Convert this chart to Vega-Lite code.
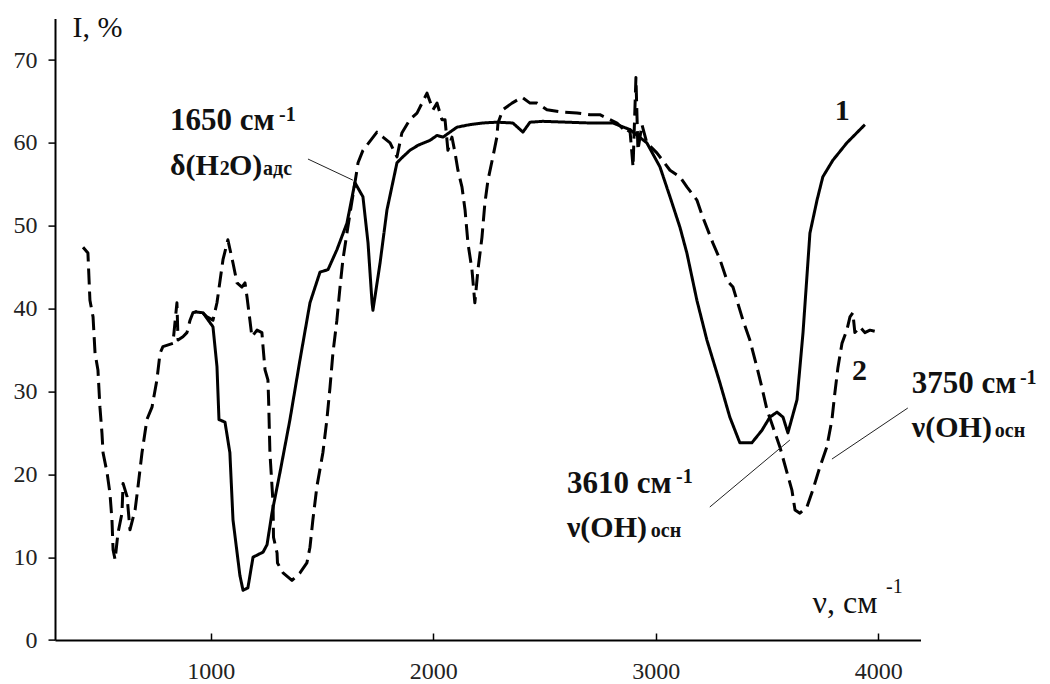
{
  "$schema": "https://vega.github.io/schema/vega-lite/v6.json",
  "width": 865.5,
  "height": 621.4,
  "autosize": {"type": "none"},
  "padding": {"left": 55, "top": 18.6, "right": 129.5, "bottom": 44},
  "background": "white",
  "config": {"view": {"stroke": null}, "font": "Liberation Serif"},
  "datasets": {
    "spectra": [
      {"curve": "1", "v": 929, "I": 39.6}, {"curve": "1", "v": 965, "I": 39.5}, {"curve": "1", "v": 1010, "I": 37.8},
      {"curve": "1", "v": 1028, "I": 33.0}, {"curve": "1", "v": 1037, "I": 26.6}, {"curve": "1", "v": 1064, "I": 26.3},
      {"curve": "1", "v": 1086, "I": 22.6}, {"curve": "1", "v": 1100, "I": 14.5}, {"curve": "1", "v": 1131, "I": 7.8},
      {"curve": "1", "v": 1145, "I": 6.0}, {"curve": "1", "v": 1167, "I": 6.3}, {"curve": "1", "v": 1190, "I": 10.0},
      {"curve": "1", "v": 1235, "I": 10.6}, {"curve": "1", "v": 1253, "I": 11.5}, {"curve": "1", "v": 1275, "I": 15.3},
      {"curve": "1", "v": 1311, "I": 20.2}, {"curve": "1", "v": 1356, "I": 26.6}, {"curve": "1", "v": 1401, "I": 33.8},
      {"curve": "1", "v": 1446, "I": 40.7}, {"curve": "1", "v": 1491, "I": 44.4}, {"curve": "1", "v": 1527, "I": 44.7},
      {"curve": "1", "v": 1567, "I": 47.1}, {"curve": "1", "v": 1612, "I": 50.3}, {"curve": "1", "v": 1648, "I": 55.2},
      {"curve": "1", "v": 1684, "I": 53.5}, {"curve": "1", "v": 1707, "I": 47.9}, {"curve": "1", "v": 1725, "I": 40.7},
      {"curve": "1", "v": 1729, "I": 39.8}, {"curve": "1", "v": 1761, "I": 45.5}, {"curve": "1", "v": 1792, "I": 51.9},
      {"curve": "1", "v": 1837, "I": 57.6}, {"curve": "1", "v": 1859, "I": 58.2}, {"curve": "1", "v": 1895, "I": 59.1},
      {"curve": "1", "v": 1931, "I": 59.7}, {"curve": "1", "v": 1985, "I": 60.3}, {"curve": "1", "v": 2017, "I": 60.9},
      {"curve": "1", "v": 2044, "I": 60.7}, {"curve": "1", "v": 2107, "I": 61.9}, {"curve": "1", "v": 2165, "I": 62.2},
      {"curve": "1", "v": 2223, "I": 62.4}, {"curve": "1", "v": 2286, "I": 62.5}, {"curve": "1", "v": 2358, "I": 62.4},
      {"curve": "1", "v": 2403, "I": 61.3}, {"curve": "1", "v": 2435, "I": 62.5}, {"curve": "1", "v": 2493, "I": 62.6},
      {"curve": "1", "v": 2704, "I": 62.4}, {"curve": "1", "v": 2808, "I": 62.4}, {"curve": "1", "v": 2884, "I": 61.6},
      {"curve": "1", "v": 2960, "I": 60.0}, {"curve": "1", "v": 3019, "I": 57.1}, {"curve": "1", "v": 3064, "I": 53.5},
      {"curve": "1", "v": 3109, "I": 49.8}, {"curve": "1", "v": 3140, "I": 46.7}, {"curve": "1", "v": 3185, "I": 41.0},
      {"curve": "1", "v": 3230, "I": 36.2}, {"curve": "1", "v": 3289, "I": 31.0}, {"curve": "1", "v": 3333, "I": 26.9},
      {"curve": "1", "v": 3378, "I": 23.8}, {"curve": "1", "v": 3432, "I": 23.8}, {"curve": "1", "v": 3477, "I": 25.3},
      {"curve": "1", "v": 3513, "I": 26.9}, {"curve": "1", "v": 3545, "I": 27.5}, {"curve": "1", "v": 3572, "I": 26.9},
      {"curve": "1", "v": 3594, "I": 25.0}, {"curve": "1", "v": 3635, "I": 29.0}, {"curve": "1", "v": 3662, "I": 37.1},
      {"curve": "1", "v": 3693, "I": 49.1}, {"curve": "1", "v": 3725, "I": 53.1}, {"curve": "1", "v": 3751, "I": 55.9},
      {"curve": "1", "v": 3796, "I": 57.9}, {"curve": "1", "v": 3859, "I": 60.0}, {"curve": "1", "v": 3940, "I": 62.2},

      {"curve": "2", "v": 426, "I": 47.4}, {"curve": "2", "v": 448, "I": 46.7}, {"curve": "2", "v": 457, "I": 41.0},
      {"curve": "2", "v": 471, "I": 39.0}, {"curve": "2", "v": 480, "I": 34.6}, {"curve": "2", "v": 493, "I": 32.6},
      {"curve": "2", "v": 502, "I": 28.1}, {"curve": "2", "v": 511, "I": 25.0}, {"curve": "2", "v": 516, "I": 22.6},
      {"curve": "2", "v": 534, "I": 20.2}, {"curve": "2", "v": 547, "I": 17.7}, {"curve": "2", "v": 556, "I": 14.5},
      {"curve": "2", "v": 561, "I": 10.9}, {"curve": "2", "v": 570, "I": 9.7}, {"curve": "2", "v": 583, "I": 12.9},
      {"curve": "2", "v": 601, "I": 15.3}, {"curve": "2", "v": 606, "I": 18.9}, {"curve": "2", "v": 624, "I": 17.3},
      {"curve": "2", "v": 637, "I": 13.3}, {"curve": "2", "v": 660, "I": 15.7}, {"curve": "2", "v": 673, "I": 18.5},
      {"curve": "2", "v": 691, "I": 22.6}, {"curve": "2", "v": 713, "I": 26.6}, {"curve": "2", "v": 736, "I": 28.1},
      {"curve": "2", "v": 758, "I": 31.4}, {"curve": "2", "v": 772, "I": 34.6}, {"curve": "2", "v": 785, "I": 35.4},
      {"curve": "2", "v": 830, "I": 35.8}, {"curve": "2", "v": 848, "I": 40.7}, {"curve": "2", "v": 853, "I": 36.2},
      {"curve": "2", "v": 875, "I": 36.6}, {"curve": "2", "v": 893, "I": 37.1}, {"curve": "2", "v": 907, "I": 38.6},
      {"curve": "2", "v": 920, "I": 39.5}, {"curve": "2", "v": 952, "I": 39.8}, {"curve": "2", "v": 983, "I": 39.0},
      {"curve": "2", "v": 1010, "I": 38.6}, {"curve": "2", "v": 1028, "I": 40.7}, {"curve": "2", "v": 1042, "I": 43.4},
      {"curve": "2", "v": 1055, "I": 45.9}, {"curve": "2", "v": 1077, "I": 48.3}, {"curve": "2", "v": 1100, "I": 45.5},
      {"curve": "2", "v": 1118, "I": 43.1}, {"curve": "2", "v": 1140, "I": 42.6}, {"curve": "2", "v": 1154, "I": 43.1},
      {"curve": "2", "v": 1163, "I": 41.4}, {"curve": "2", "v": 1176, "I": 38.6}, {"curve": "2", "v": 1185, "I": 36.6},
      {"curve": "2", "v": 1208, "I": 37.4}, {"curve": "2", "v": 1230, "I": 37.1}, {"curve": "2", "v": 1235, "I": 35.4},
      {"curve": "2", "v": 1244, "I": 32.6}, {"curve": "2", "v": 1257, "I": 31.4}, {"curve": "2", "v": 1260, "I": 29.0},
      {"curve": "2", "v": 1266, "I": 22.6}, {"curve": "2", "v": 1280, "I": 16.5}, {"curve": "2", "v": 1282, "I": 12.4},
      {"curve": "2", "v": 1298, "I": 10.5}, {"curve": "2", "v": 1300, "I": 9.3}, {"curve": "2", "v": 1325, "I": 8.1},
      {"curve": "2", "v": 1365, "I": 7.2}, {"curve": "2", "v": 1401, "I": 8.1}, {"curve": "2", "v": 1432, "I": 9.3},
      {"curve": "2", "v": 1446, "I": 11.2}, {"curve": "2", "v": 1459, "I": 14.5}, {"curve": "2", "v": 1477, "I": 18.5},
      {"curve": "2", "v": 1504, "I": 22.6}, {"curve": "2", "v": 1522, "I": 26.6}, {"curve": "2", "v": 1536, "I": 30.5},
      {"curve": "2", "v": 1549, "I": 34.6}, {"curve": "2", "v": 1567, "I": 38.6}, {"curve": "2", "v": 1581, "I": 42.6},
      {"curve": "2", "v": 1594, "I": 45.9}, {"curve": "2", "v": 1612, "I": 49.1}, {"curve": "2", "v": 1626, "I": 51.5},
      {"curve": "2", "v": 1657, "I": 56.7}, {"curve": "2", "v": 1662, "I": 57.6}, {"curve": "2", "v": 1684, "I": 59.1},
      {"curve": "2", "v": 1747, "I": 61.3}, {"curve": "2", "v": 1774, "I": 60.7}, {"curve": "2", "v": 1806, "I": 60.0},
      {"curve": "2", "v": 1837, "I": 58.3}, {"curve": "2", "v": 1859, "I": 61.2}, {"curve": "2", "v": 1895, "I": 62.8},
      {"curve": "2", "v": 1927, "I": 63.6}, {"curve": "2", "v": 1972, "I": 66.0}, {"curve": "2", "v": 1999, "I": 64.0},
      {"curve": "2", "v": 2017, "I": 64.8}, {"curve": "2", "v": 2039, "I": 62.8}, {"curve": "2", "v": 2053, "I": 62.8},
      {"curve": "2", "v": 2066, "I": 59.1}, {"curve": "2", "v": 2084, "I": 60.7}, {"curve": "2", "v": 2098, "I": 58.8},
      {"curve": "2", "v": 2111, "I": 56.7}, {"curve": "2", "v": 2129, "I": 54.7}, {"curve": "2", "v": 2143, "I": 51.9},
      {"curve": "2", "v": 2156, "I": 47.9}, {"curve": "2", "v": 2174, "I": 44.7}, {"curve": "2", "v": 2187, "I": 40.7},
      {"curve": "2", "v": 2201, "I": 44.7}, {"curve": "2", "v": 2219, "I": 48.6}, {"curve": "2", "v": 2232, "I": 52.7},
      {"curve": "2", "v": 2246, "I": 55.5}, {"curve": "2", "v": 2268, "I": 58.3}, {"curve": "2", "v": 2286, "I": 60.7},
      {"curve": "2", "v": 2291, "I": 62.4}, {"curve": "2", "v": 2313, "I": 64.0}, {"curve": "2", "v": 2354, "I": 64.8},
      {"curve": "2", "v": 2399, "I": 65.5}, {"curve": "2", "v": 2435, "I": 64.8}, {"curve": "2", "v": 2466, "I": 64.8},
      {"curve": "2", "v": 2511, "I": 64.0}, {"curve": "2", "v": 2583, "I": 63.7}, {"curve": "2", "v": 2646, "I": 63.6},
      {"curve": "2", "v": 2704, "I": 63.4}, {"curve": "2", "v": 2749, "I": 63.4}, {"curve": "2", "v": 2826, "I": 62.4},
      {"curve": "2", "v": 2871, "I": 61.2}, {"curve": "2", "v": 2884, "I": 61.6}, {"curve": "2", "v": 2898, "I": 57.1},
      {"curve": "2", "v": 2911, "I": 67.9}, {"curve": "2", "v": 2920, "I": 59.1}, {"curve": "2", "v": 2938, "I": 62.2},
      {"curve": "2", "v": 2960, "I": 60.0}, {"curve": "2", "v": 3005, "I": 58.8}, {"curve": "2", "v": 3064, "I": 56.7},
      {"curve": "2", "v": 3109, "I": 55.9}, {"curve": "2", "v": 3140, "I": 54.7}, {"curve": "2", "v": 3185, "I": 53.1},
      {"curve": "2", "v": 3212, "I": 51.0}, {"curve": "2", "v": 3257, "I": 47.9}, {"curve": "2", "v": 3289, "I": 45.9},
      {"curve": "2", "v": 3320, "I": 43.4}, {"curve": "2", "v": 3347, "I": 42.6}, {"curve": "2", "v": 3392, "I": 38.6},
      {"curve": "2", "v": 3423, "I": 36.2}, {"curve": "2", "v": 3455, "I": 32.9}, {"curve": "2", "v": 3477, "I": 30.5},
      {"curve": "2", "v": 3500, "I": 27.8}, {"curve": "2", "v": 3527, "I": 25.7}, {"curve": "2", "v": 3558, "I": 23.3},
      {"curve": "2", "v": 3590, "I": 20.2}, {"curve": "2", "v": 3612, "I": 18.1}, {"curve": "2", "v": 3626, "I": 15.7},
      {"curve": "2", "v": 3648, "I": 15.3}, {"curve": "2", "v": 3680, "I": 16.1}, {"curve": "2", "v": 3706, "I": 18.1},
      {"curve": "2", "v": 3738, "I": 20.9}, {"curve": "2", "v": 3769, "I": 23.3}, {"curve": "2", "v": 3792, "I": 26.6},
      {"curve": "2", "v": 3805, "I": 29.8}, {"curve": "2", "v": 3819, "I": 32.9}, {"curve": "2", "v": 3837, "I": 35.8},
      {"curve": "2", "v": 3859, "I": 37.4}, {"curve": "2", "v": 3873, "I": 39.0}, {"curve": "2", "v": 3886, "I": 39.5},
      {"curve": "2", "v": 3895, "I": 37.1}, {"curve": "2", "v": 3918, "I": 37.8}, {"curve": "2", "v": 3940, "I": 37.1},
      {"curve": "2", "v": 3963, "I": 37.4}, {"curve": "2", "v": 4008, "I": 37.1}
    ],
    "numbers": [
      {"t": "1650 см", "v": 817, "I": 61.55},
      {"t": "3750 см", "v": 4151, "I": 29.81},
      {"t": "3610 см", "v": 2601, "I": 17.74}
    ],
    "big": [
      {"t": "δ(H", "v": 817, "I": 56.12},
      {"t": "O)", "v": 1082, "I": 56.12},
      {"t": "ν(OH)", "v": 4151, "I": 24.5},
      {"t": "ν(OH)", "v": 2601, "I": 12.43},
      {"t": "1", "v": 3805, "I": 62.76},
      {"t": "2", "v": 3882, "I": 31.4}
    ],
    "small": [
      {"t": "-1", "v": 1307, "I": 62.64},
      {"t": "2", "v": 1040, "I": 56.12},
      {"t": "адс", "v": 1235, "I": 56.12},
      {"t": "-1", "v": 4637, "I": 30.9},
      {"t": "осн", "v": 4524, "I": 24.5},
      {"t": "-1", "v": 3091, "I": 18.95},
      {"t": "осн", "v": 2978, "I": 12.43}
    ],
    "axisSup": [
      {"t": "-1", "v": 4035, "I": 5.67}
    ],
    "leaders": [
      {"v": 1437, "I": 58.05, "v2": 1639, "I2": 55.5},
      {"v": 3243, "I": 16.05, "v2": 3603, "I2": 24.14},
      {"v": 4133, "I": 28.0, "v2": 3792, "I2": 21.84}
    ]
  },
  "encoding": {
    "x": {
      "field": "v", "type": "quantitative",
      "scale": {"domain": [300, 4190], "nice": false, "zero": false},
      "axis": {
        "title": "ν, см", "titleFont": "Liberation Serif", "titleFontSize": 32, "titleFontWeight": "normal",
        "titleColor": "#111", "titleX": 757, "titleY": -28, "titleAlign": "left", "titleBaseline": "alphabetic",
        "values": [1000, 2000, 3000, 4000], "format": "d", "grid": false,
        "labelFont": "Liberation Serif", "labelFontSize": 24, "labelColor": "#222", "labelPadding": 26,
        "tickSize": -7, "tickWidth": 1.5, "tickColor": "black", "domainColor": "black", "domainWidth": 2
      }
    },
    "y": {
      "field": "I", "type": "quantitative",
      "scale": {"domain": [0, 75], "nice": false, "zero": true},
      "axis": {
        "title": "I, %", "titleFont": "Liberation Serif", "titleFontSize": 30, "titleFontWeight": "normal",
        "titleColor": "#111", "titleAngle": 0, "titleX": 17, "titleY": 18, "titleAlign": "left", "titleBaseline": "alphabetic",
        "values": [0, 10, 20, 30, 40, 50, 60, 70], "grid": false,
        "labelFont": "Liberation Serif", "labelFontSize": 24, "labelColor": "#222", "labelPadding": 11,
        "tickSize": 7, "tickWidth": 1.5, "tickColor": "black", "domainColor": "black", "domainWidth": 2
      }
    }
  },
  "layer": [
    {
      "data": {"name": "spectra"},
      "mark": {"type": "line", "strokeWidth": 3, "color": "black", "strokeJoin": "round"},
      "encoding": {
        "detail": {"field": "curve", "type": "nominal"},
        "strokeDash": {"field": "curve", "type": "nominal", "scale": {"domain": ["1", "2"], "range": [[1, 0], [16, 7]]}, "legend": null}
      }
    },
    {
      "data": {"name": "leaders"},
      "mark": {"type": "rule", "strokeWidth": 1, "color": "#222"},
      "encoding": {"x2": {"field": "v2"}, "y2": {"field": "I2"}}
    },
    {
      "data": {"name": "numbers"},
      "mark": {"type": "text", "align": "left", "baseline": "alphabetic", "font": "Liberation Serif", "fontWeight": "bold", "fontSize": 31, "color": "#111"},
      "encoding": {"text": {"field": "t"}}
    },
    {
      "data": {"name": "big"},
      "mark": {"type": "text", "align": "left", "baseline": "alphabetic", "font": "Liberation Serif", "fontWeight": "bold", "fontSize": 30, "color": "#111"},
      "encoding": {"text": {"field": "t"}}
    },
    {
      "data": {"name": "small"},
      "mark": {"type": "text", "align": "left", "baseline": "alphabetic", "font": "Liberation Serif", "fontWeight": "bold", "fontSize": 20, "color": "#111"},
      "encoding": {"text": {"field": "t"}}
    },
    {
      "data": {"name": "axisSup"},
      "mark": {"type": "text", "align": "left", "baseline": "alphabetic", "font": "Liberation Serif", "fontSize": 20, "color": "#111"},
      "encoding": {"text": {"field": "t"}}
    }
  ]
}
